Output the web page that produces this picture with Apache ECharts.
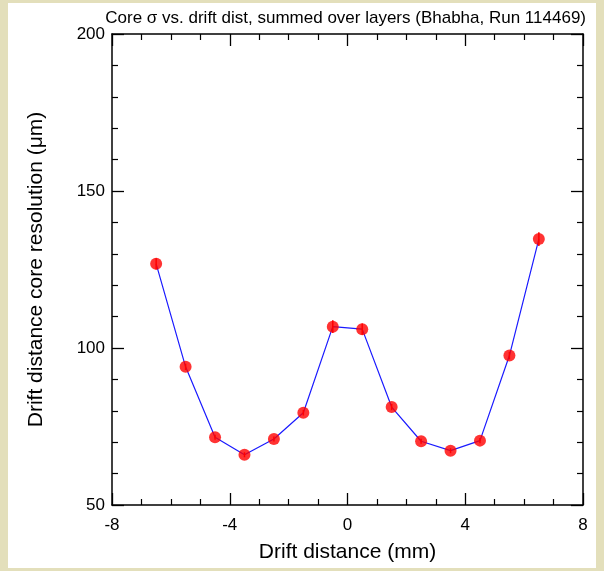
<!DOCTYPE html>
<html>
<head>
<meta charset="utf-8">
<script src="https://cdn.jsdelivr.net/npm/echarts@6/dist/echarts.min.js"></script>
<style>
  html, body { margin: 0; padding: 0; background: #e3dfbb; }
  #wrap { position: relative; width: 604px; height: 571px; background: #e3dfbb; }
  #panel { position: absolute; left: 8px; top: 3px; width: 588px; height: 565px; background: #ffffff; }
  #chart { position: absolute; left: 0; top: 0; width: 604px; height: 571px; }
</style>
</head>
<body>
<div id="wrap"><div id="panel"></div><div id="chart"></div></div>
<script>
// Data
const driftDistance = [-6.5, -5.5, -4.5, -3.5, -2.5, -1.5, -0.5, 0.5, 1.5, 2.5, 3.5, 4.5, 5.5, 6.5];
const coreResolution = [126.8, 94.0, 71.6, 66.0, 71.0, 79.4, 106.8, 106.0, 81.2, 70.3, 67.3, 70.5, 97.6, 134.7];
const resolutionError = [1.8, 1.0, 0.8, 0.8, 0.8, 0.9, 2.0, 1.8, 1.0, 0.8, 0.8, 0.8, 1.2, 2.2];
const xTicks = [-8, -4, 0, 4, 8];
const yTicks = [50, 100, 150, 200];
const titleText = 'Core \u03c3 vs. drift dist, summed over layers (Bhabha, Run 114469)';
const xTitle = 'Drift distance (mm)';
const yTitle = 'Drift distance core resolution (\u03bcm)';

const FONT = 'Liberation Sans, Arial, Helvetica, sans-serif';
const chart = echarts.init(document.getElementById('chart'), null, { renderer: 'canvas' });

const pts = driftDistance.map((x, i) => [x, coreResolution[i]]);
const errData = driftDistance.map((x, i) => [x, coreResolution[i] - resolutionError[i], coreResolution[i] + resolutionError[i]]);

function axisCommon(extra) {
  return Object.assign({
    type: 'value',
    axisLine: { show: true, onZero: false, lineStyle: { color: '#000', width: 1.5 } },
    axisTick: { show: true, inside: true, length: 12, lineStyle: { color: '#000', width: 1.3 } },
    minorTick: { show: true, length: 6, lineStyle: { color: '#000', width: 1.2 } },
    splitLine: { show: false },
    minorSplitLine: { show: false }
  }, extra);
}

const option = {
  backgroundColor: 'transparent',
  animation: false,
  textStyle: { fontFamily: FONT },
  title: {
    text: titleText,
    right: 13,
    top: 5,
    textStyle: { fontFamily: FONT, fontSize: 17, fontWeight: 'normal', color: '#000' }
  },
  grid: { left: 112, top: 34, width: 471, height: 471, containLabel: false },
  xAxis: [
    axisCommon({
      position: 'bottom', min: xTicks[0], max: xTicks[xTicks.length - 1], interval: 4,
      minorTick: { show: true, splitNumber: 4, length: 6, lineStyle: { color: '#000', width: 1.2 } },
      axisLabel: { fontSize: 17, color: '#000', margin: 12, fontFamily: FONT },
      name: xTitle, nameLocation: 'middle', nameGap: 37,
      nameTextStyle: { fontSize: 21, color: '#000', fontFamily: FONT }
    }),
    axisCommon({
      position: 'top', min: xTicks[0], max: xTicks[xTicks.length - 1], interval: 4,
      minorTick: { show: true, splitNumber: 4, length: 6, lineStyle: { color: '#000', width: 1.2 } },
      axisLabel: { show: false }
    })
  ],
  yAxis: [
    axisCommon({
      position: 'left', min: yTicks[0], max: yTicks[yTicks.length - 1], interval: 50,
      minorTick: { show: true, splitNumber: 5, length: 6, lineStyle: { color: '#000', width: 1.2 } },
      axisLabel: { fontSize: 17, color: '#000', margin: 7, fontFamily: FONT },
      name: yTitle, nameLocation: 'middle', nameGap: 65, nameRotate: 90,
      nameTextStyle: { fontSize: 21, color: '#000', fontFamily: FONT }
    }),
    axisCommon({
      position: 'right', min: yTicks[0], max: yTicks[yTicks.length - 1], interval: 50,
      minorTick: { show: true, splitNumber: 5, length: 6, lineStyle: { color: '#000', width: 1.2 } },
      axisLabel: { show: false }
    })
  ],
  series: [
    {
      type: 'line',
      data: pts,
      xAxisIndex: 0, yAxisIndex: 0,
      symbol: 'none',
      lineStyle: { color: '#1a1aff', width: 1.2 },
      z: 2
    },
    {
      type: 'custom',
      xAxisIndex: 0, yAxisIndex: 0,
      data: errData,
      renderItem: function (params, api) {
        const p1 = api.coord([api.value(0), api.value(1)]);
        const p2 = api.coord([api.value(0), api.value(2)]);
        return {
          type: 'line',
          shape: { x1: p1[0], y1: p1[1], x2: p2[0], y2: p2[1] },
          style: { stroke: '#ff0000', lineWidth: 1.5 }
        };
      },
      encode: { x: 0, y: [1, 2] },
      z: 3
    },
    {
      type: 'scatter',
      data: pts,
      xAxisIndex: 0, yAxisIndex: 0,
      symbol: 'circle',
      symbolSize: 12,
      itemStyle: { color: '#ff0000' },
      z: 4
    }
  ]
};
chart.setOption(option);
</script>
</body>
</html>
